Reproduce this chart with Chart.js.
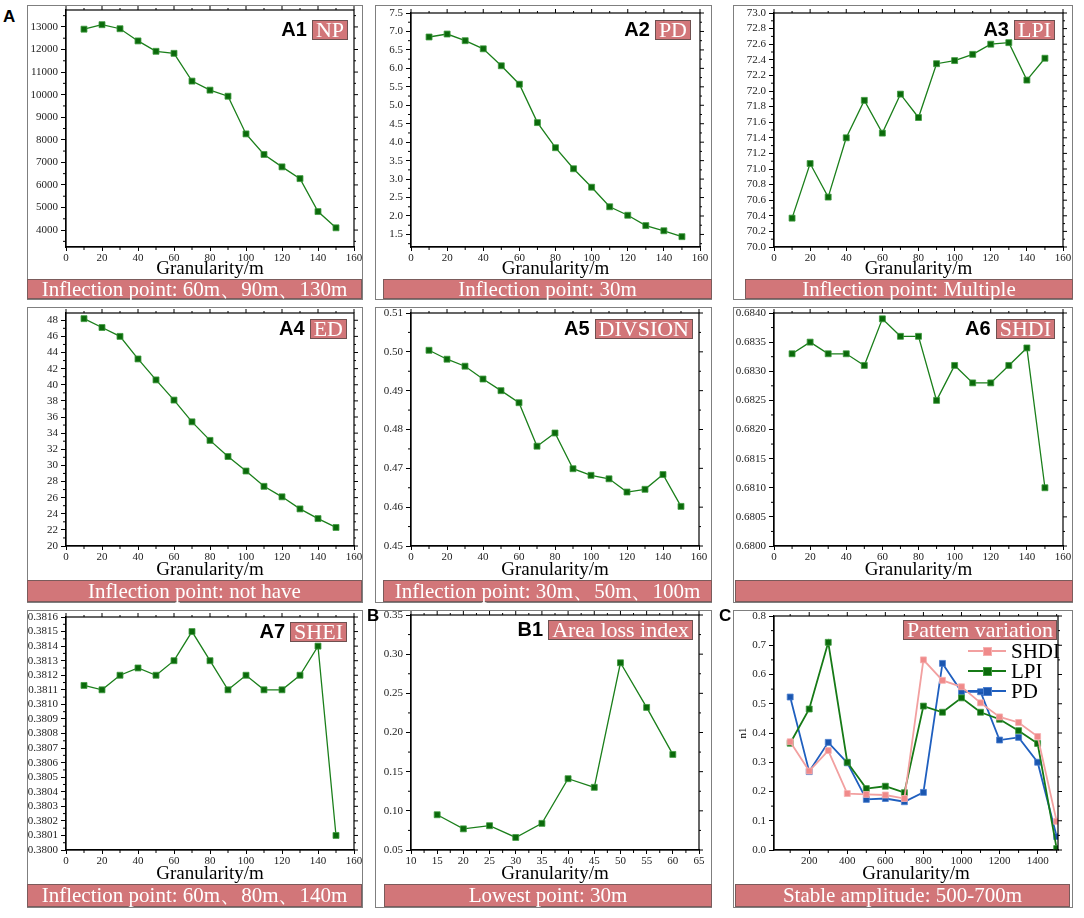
<!DOCTYPE html>
<html>
<head>
<meta charset="utf-8">
<script src="https://cdn.jsdelivr.net/npm/chart.js@4.4.1/dist/chart.umd.min.js"></script>
<style>
  html, body { margin: 0; padding: 0; background: #fff; }
  #stage { position: relative; width: 1084px; height: 918px; overflow: hidden; }
  .frame { position: absolute; box-sizing: border-box; border: 1.5px solid #7f7f7f; }
  .chartbox { position: absolute; }
  .band { position: absolute; box-sizing: border-box; background: #d27679; border: 1px solid #7b5b5b;
          color: #fff; font-family: 'Liberation Serif', 'Times New Roman', serif; font-size: 21px;
          text-align: center; white-space: nowrap; overflow: visible; }
  .tag { position: absolute; display: flex; align-items: center; gap: 5px; }
  .tag .lab { font-family: 'Liberation Sans', Arial, sans-serif; font-weight: bold; font-size: 20px; color: #000; }
  .tag .badge { background: #d27679; border: 1px solid #6e5050; color: #fff; padding: 0 3px;
                font-family: 'Liberation Serif', 'Times New Roman', serif; font-size: 22px; line-height: 18px; height: 18px; }
  .letter { position: absolute; font-family: 'Liberation Sans', Arial, sans-serif; font-weight: bold; font-size: 17px; color: #000; }
  .legend { position: absolute; font-family: 'Liberation Serif', 'Times New Roman', serif; font-size: 21px; color: #000; }
  .legend .row { display: flex; align-items: center; height: 20px; }
  .legend .sample { position: relative; width: 38px; height: 10px; margin-right: 5px; }
  .legend .sample .ln { position: absolute; left: 0; right: 0; top: 4px; height: 2px; }
  .legend .sample .mk { position: absolute; left: 15px; top: 1px; width: 7px; height: 7px; }
</style>
</head>
<body>
<div id="stage"></div>
<script>
// granularity steps for the A panels
const granularity = [10, 20, 30, 40, 50, 60, 70, 80, 90, 100, 110, 120, 130, 140, 150];
const granularityTicks = [0, 20, 40, 60, 80, 100, 120, 140, 160];

const npValues = [12900, 13100, 12920, 12380, 11920, 11830, 10600, 10200, 9930, 8260, 7350, 6800, 6280, 4820, 4100];
const npTicks = [4000, 5000, 6000, 7000, 8000, 9000, 10000, 11000, 12000, 13000];

const pdValues = [6.85, 6.93, 6.75, 6.53, 6.07, 5.57, 4.53, 3.85, 3.28, 2.78, 2.25, 2.02, 1.74, 1.60, 1.44];
const pdTicks = [1.5, 2.0, 2.5, 3.0, 3.5, 4.0, 4.5, 5.0, 5.5, 6.0, 6.5, 7.0, 7.5];

const lpiValues = [70.37, 71.07, 70.64, 71.40, 71.88, 71.46, 71.96, 71.66, 72.35, 72.39, 72.47, 72.60, 72.62, 72.14, 72.42];
const lpiTicks = [70.0, 70.2, 70.4, 70.6, 70.8, 71.0, 71.2, 71.4, 71.6, 71.8, 72.0, 72.2, 72.4, 72.6, 72.8, 73.0];

const edValues = [48.2, 47.1, 46.0, 43.2, 40.6, 38.1, 35.4, 33.1, 31.1, 29.3, 27.4, 26.1, 24.6, 23.4, 22.3];
const edTicks = [20, 22, 24, 26, 28, 30, 32, 34, 36, 38, 40, 42, 44, 46, 48];

const divisionValues = [0.5004, 0.4981, 0.4963, 0.4930, 0.4900, 0.4869, 0.4757, 0.4791, 0.4699, 0.4682, 0.4673, 0.4639, 0.4646, 0.4684, 0.4602];
const divisionTicks = [0.45, 0.46, 0.47, 0.48, 0.49, 0.50, 0.51];

const shdiValues = [0.6833, 0.6835, 0.6833, 0.6833, 0.6831, 0.6839, 0.6836, 0.6836, 0.6825, 0.6831, 0.6828, 0.6828, 0.6831, 0.6834, 0.6810];
const shdiTicks = [0.6800, 0.6805, 0.6810, 0.6815, 0.6820, 0.6825, 0.6830, 0.6835, 0.6840];

const sheiValues = [0.38113, 0.3811, 0.3812, 0.38125, 0.3812, 0.3813, 0.3815, 0.3813, 0.3811, 0.3812, 0.3811, 0.3811, 0.3812, 0.3814, 0.3801];
const sheiTicks = [0.3800, 0.3801, 0.3802, 0.3803, 0.3804, 0.3805, 0.3806, 0.3807, 0.3808, 0.3809, 0.3810, 0.3811, 0.3812, 0.3813, 0.3814, 0.3815, 0.3816];

// B1 area loss index
const areaLossGranularity = [15, 20, 25, 30, 35, 40, 45, 50, 55, 60];
const areaLossValues = [0.095, 0.077, 0.081, 0.066, 0.084, 0.141, 0.130, 0.289, 0.232, 0.172];
const areaLossXTicks = [10, 15, 20, 25, 30, 35, 40, 45, 50, 55, 60, 65];
const areaLossTicks = [0.05, 0.10, 0.15, 0.20, 0.25, 0.30, 0.35];

// C pattern variation
const variationGranularity = [100, 200, 300, 400, 500, 600, 700, 800, 900, 1000, 1100, 1200, 1300, 1400, 1500];
const variationShdi = [0.370, 0.270, 0.340, 0.193, 0.190, 0.188, 0.176, 0.650, 0.580, 0.558, 0.503, 0.455, 0.436, 0.388, 0.098];
const variationLpi = [0.365, 0.482, 0.710, 0.300, 0.210, 0.218, 0.196, 0.492, 0.471, 0.520, 0.471, 0.447, 0.408, 0.364, 0.005];
const variationPd = [0.523, 0.268, 0.368, 0.298, 0.173, 0.176, 0.165, 0.197, 0.638, 0.541, 0.541, 0.376, 0.385, 0.300, 0.046];
const variationXTicks = [200, 400, 600, 800, 1000, 1200, 1400];
const variationTicks = [0.0, 0.1, 0.2, 0.3, 0.4, 0.5, 0.6, 0.7, 0.8];
const variationNames = ['SHDI', 'LPI', 'PD'];

const SERIF = "'Liberation Serif', 'Times New Roman', serif";
const GREEN = { line: '#1a7f1a', fill: '#0b6a0b', edge: '#3f9b3f' };
const PINK = { line: '#f2a0a0', fill: '#f08a8a', edge: '#f6b0b0' };
const DKGREEN = { line: '#167a16', fill: '#0b6a0b', edge: '#3f9b3f' };
const BLUE = { line: '#1f5fbf', fill: '#1a56b0', edge: '#4d80d0' };

// frame / plot geometry per column and row
const cols = [
  { frameL: 27, frameR: 363, plotL: 66, plotR: 354 },
  { frameL: 375, frameR: 712, plotL: 411, plotR: 700 },
  { frameL: 733, frameR: 1073, plotL: 774, plotR: 1063 }
];
const rows = [
  { frameT: 5, frameB: 300, plotT: 13, plotB: 247, bandT: 279, bandH: 20 },
  { frameT: 307, frameB: 603, plotT: 313, plotB: 546, bandT: 580, bandH: 22 },
  { frameT: 610, frameB: 908, plotT: 617, plotB: 850, bandT: 884, bandH: 23 }
];

const fmt0 = v => String(v);
const fmt1 = v => v.toFixed(1);
const fmt2 = v => v.toFixed(2);
const fmt4 = v => v.toFixed(4);

const panels = [
  { col: 0, row: 0, tag: 'A1', badge: 'NP', band: 'Inflection point: 60m、90m、130m', bandL: 27, bandR: 362, tagR: 348, tagT: 18, plotT: 7,
    xs: granularity, series: [{ name: 'NP', values: npValues, c: GREEN }], xMin: 0, xMax: 160, xTicks: granularityTicks,
    yMin: 3250, yMax: 13750, yTicks: npTicks, fmt: fmt0 },
  { col: 1, row: 0, tag: 'A2', badge: 'PD', band: 'Inflection point: 30m', bandL: 383, bandR: 712, tagR: 691, tagT: 18,
    xs: granularity, series: [{ name: 'PD', values: pdValues, c: GREEN }], xMin: 0, xMax: 160, xTicks: granularityTicks,
    yMin: 1.16, yMax: 7.5, yTicks: pdTicks, fmt: fmt1 },
  { col: 2, row: 0, tag: 'A3', badge: 'LPI', band: 'Inflection point: Multiple', bandL: 745, bandR: 1073, tagR: 1055, tagT: 18,
    xs: granularity, series: [{ name: 'LPI', values: lpiValues, c: GREEN }], xMin: 0, xMax: 160, xTicks: granularityTicks,
    yMin: 70.0, yMax: 73.0, yTicks: lpiTicks, fmt: fmt1 },
  { col: 0, row: 1, tag: 'A4', badge: 'ED', band: 'Inflection point: not have', bandL: 27, bandR: 362, tagR: 347, tagT: 317,
    xs: granularity, series: [{ name: 'ED', values: edValues, c: GREEN }], xMin: 0, xMax: 160, xTicks: granularityTicks,
    yMin: 20, yMax: 48.9, yTicks: edTicks, fmt: fmt0 },
  { col: 1, row: 1, tag: 'A5', badge: 'DIVSION', band: 'Inflection point: 30m、50m、100m', bandL: 383, bandR: 712, tagR: 693, tagT: 317, plotR: 699,
    xs: granularity, series: [{ name: 'DIVSION', values: divisionValues, c: GREEN }], xMin: 0, xMax: 160, xTicks: granularityTicks,
    yMin: 0.45, yMax: 0.51, yTicks: divisionTicks, fmt: fmt2 },
  { col: 2, row: 1, tag: 'A6', badge: 'SHDI', band: '', bandL: 735, bandR: 1073, tagR: 1055, tagT: 317,
    xs: granularity, series: [{ name: 'SHDI', values: shdiValues, c: GREEN }], xMin: 0, xMax: 160, xTicks: granularityTicks,
    yMin: 0.6800, yMax: 0.6840, yTicks: shdiTicks, fmt: fmt4 },
  { col: 0, row: 2, tag: 'A7', badge: 'SHEI', band: 'Inflection point: 60m、80m、140m', bandL: 27, bandR: 362, tagR: 347, tagT: 620,
    xs: granularity, series: [{ name: 'SHEI', values: sheiValues, c: GREEN }], xMin: 0, xMax: 160, xTicks: granularityTicks,
    yMin: 0.3800, yMax: 0.3816, yTicks: sheiTicks, fmt: fmt4 },
  { col: 1, row: 2, tag: 'B1', badge: 'Area loss index', band: 'Lowest point: 30m', bandL: 384, bandR: 712, tagR: 693, tagT: 618, plotR: 699, plotT: 615,
    xs: areaLossGranularity, series: [{ name: 'Area loss index', values: areaLossValues, c: GREEN }], xMin: 10, xMax: 65, xTicks: areaLossXTicks,
    yMin: 0.05, yMax: 0.35, yTicks: areaLossTicks, fmt: fmt2 },
  { col: 2, row: 2, tag: '', badge: 'Pattern variation', band: 'Stable amplitude: 500-700m', bandL: 735, bandR: 1070, tagR: 1057, tagT: 620, plotR: 1058, plotT: 616,
    xs: variationGranularity,
    series: [
      { name: variationNames[0], values: variationShdi, c: PINK },
      { name: variationNames[1], values: variationLpi, c: DKGREEN },
      { name: variationNames[2], values: variationPd, c: BLUE }
    ],
    xMin: 15, xMax: 1507, xTicks: variationXTicks, yMin: 0, yMax: 0.8, yTicks: variationTicks, fmt: fmt1, yTitle: 'n1', legend: true }
];

// midpoints between ticks, plus half steps just outside the ends
function minorTicks(ticks, min, max) {
  const out = [];
  for (let i = 0; i < ticks.length - 1; i++) out.push((ticks[i] + ticks[i + 1]) / 2);
  if (ticks.length > 1) {
    const step = ticks[1] - ticks[0];
    const lo = ticks[0] - step / 2, hi = ticks[ticks.length - 1] + step / 2;
    if (lo > min) out.push(lo);
    if (hi < max) out.push(hi);
  }
  return out;
}

// box around the plot with ticks on all four sides
const boxPlugin = {
  id: 'box',
  afterDraw(chart, args, opts) {
    const { ctx, chartArea: a, scales } = chart;
    const x = scales.x, y = scales.y;
    ctx.save();
    ctx.strokeStyle = '#000';
    ctx.lineWidth = 1.2;
    ctx.strokeRect(a.left, a.top, a.right - a.left, a.bottom - a.top);
    ctx.lineWidth = 1;
    ctx.beginPath();
    opts.xTicks.forEach(v => {
      const px = x.getPixelForValue(v);
      ctx.moveTo(px, a.top); ctx.lineTo(px, a.top - 4);
    });
    opts.xMinor.forEach(v => {
      const px = x.getPixelForValue(v);
      ctx.moveTo(px, a.bottom); ctx.lineTo(px, a.bottom + 3);
      ctx.moveTo(px, a.top); ctx.lineTo(px, a.top - 2);
    });
    opts.yTicks.forEach(v => {
      const py = y.getPixelForValue(v);
      ctx.moveTo(a.right, py); ctx.lineTo(a.right + 4, py);
    });
    opts.yMinor.forEach(v => {
      const py = y.getPixelForValue(v);
      ctx.moveTo(a.left, py); ctx.lineTo(a.left - 3, py);
      ctx.moveTo(a.right, py); ctx.lineTo(a.right + 2, py);
    });
    ctx.stroke();
    ctx.restore();
  }
};

const stage = document.getElementById('stage');

function addDiv(cls, style, html) {
  const d = document.createElement('div');
  d.className = cls;
  Object.assign(d.style, style);
  if (html !== undefined) d.innerHTML = html;
  stage.appendChild(d);
  return d;
}

panels.forEach((p, i) => {
  const c = cols[p.col], r = rows[p.row];
  const plotT = p.plotT || r.plotT;
  const plotR = p.plotR || c.plotR;

  addDiv('frame', { left: c.frameL + 'px', top: r.frameT + 'px', width: (c.frameR - c.frameL) + 'px', height: (r.frameB - r.frameT) + 'px' });

  const box = addDiv('chartbox', { left: c.frameL + 'px', top: r.frameT + 'px', width: (c.frameR - c.frameL) + 'px', height: (r.bandT - r.frameT) + 'px' });
  const canvas = document.createElement('canvas');
  box.appendChild(canvas);

  const datasets = p.series.map(s => ({
    label: s.name,
    data: p.xs.map((xv, k) => ({ x: xv, y: s.values[k] })),
    borderColor: s.c.line,
    borderWidth: p.legend ? 1.8 : 1.3,
    pointStyle: 'rect',
    pointRadius: 4.2,
    pointBackgroundColor: s.c.fill,
    pointBorderColor: s.c.edge,
    pointBorderWidth: 0.8,
    tension: 0,
    fill: false
  }));

  const tickFont = { family: SERIF, size: 11 };

  new Chart(canvas, {
    type: 'line',
    data: { datasets: datasets },
    options: {
      animation: false,
      responsive: true,
      maintainAspectRatio: false,
      layout: { padding: { top: plotT - r.frameT, right: c.frameR - plotR, left: 0, bottom: 0 } },
      plugins: {
        legend: { display: false },
        tooltip: { enabled: false },
        box: { xTicks: p.xTicks, yTicks: p.yTicks, xMinor: minorTicks(p.xTicks, p.xMin, p.xMax), yMinor: minorTicks(p.yTicks, p.yMin, p.yMax) }
      },
      scales: {
        x: {
          type: 'linear', min: p.xMin, max: p.xMax,
          afterBuildTicks: s => { s.ticks = p.xTicks.map(v => ({ value: v })); },
          afterFit: s => { s.height = r.bandT - r.plotB; s.paddingLeft = 0; s.paddingRight = 0; },
          grid: { display: true, drawOnChartArea: false, drawTicks: true, tickLength: 4, color: '#000' },
          border: { display: true, color: '#000', width: 1.2 },
          ticks: { autoSkip: false, maxRotation: 0, padding: 1, color: '#222', font: tickFont, callback: v => fmt0(v) },
          title: { display: true, text: 'Granularity/m', color: '#000', font: { family: SERIF, size: 19, lineHeight: 1 }, padding: { top: 0, bottom: 0 } }
        },
        y: {
          type: 'linear', min: p.yMin, max: p.yMax,
          afterBuildTicks: s => { s.ticks = p.yTicks.map(v => ({ value: v })); },
          afterFit: s => { s.width = c.plotL - c.frameL; s.paddingTop = 0; s.paddingBottom = 0; },
          grid: { display: true, drawOnChartArea: false, drawTicks: true, tickLength: 5, color: '#000' },
          border: { display: true, color: '#000', width: 1.2 },
          ticks: { autoSkip: false, padding: 3, color: '#222', font: tickFont, callback: v => p.fmt(v) },
          title: { display: !!p.yTitle, text: p.yTitle || '', color: '#000', font: { family: SERIF, size: 11 }, padding: { top: 4, bottom: 0 } }
        }
      }
    },
    plugins: [boxPlugin]
  });

  addDiv('band', { left: p.bandL + 'px', top: r.bandT + 'px', width: (p.bandR - p.bandL) + 'px', height: r.bandH + 'px', lineHeight: (r.bandH - 2) + 'px' }, p.band);

  const tag = addDiv('tag', { right: (1084 - p.tagR) + 'px', top: p.tagT + 'px' });
  if (p.tag) {
    const lab = document.createElement('span');
    lab.className = 'lab';
    lab.textContent = p.tag;
    tag.appendChild(lab);
  }
  const badge = document.createElement('span');
  badge.className = 'badge';
  badge.textContent = p.badge;
  tag.appendChild(badge);

  // legend for the pattern variation panel
  if (p.legend) {
    const lg = addDiv('legend', { left: '968px', top: '641px' });
    p.series.forEach(s => {
      const row = document.createElement('div');
      row.className = 'row';
      row.innerHTML = '<div class="sample"><div class="ln" style="background:' + s.c.line + '"></div>' +
        '<div class="mk" style="background:' + s.c.fill + ';border:0.8px solid ' + s.c.edge + '"></div></div><span>' + s.name + '</span>';
      lg.appendChild(row);
    });
  }
});

// panel group letters
addDiv('letter', { left: '3px', top: '7px' }, 'A');
addDiv('letter', { left: '367px', top: '606px' }, 'B');
addDiv('letter', { left: '719px', top: '606px' }, 'C');
</script>
</body>
</html>
